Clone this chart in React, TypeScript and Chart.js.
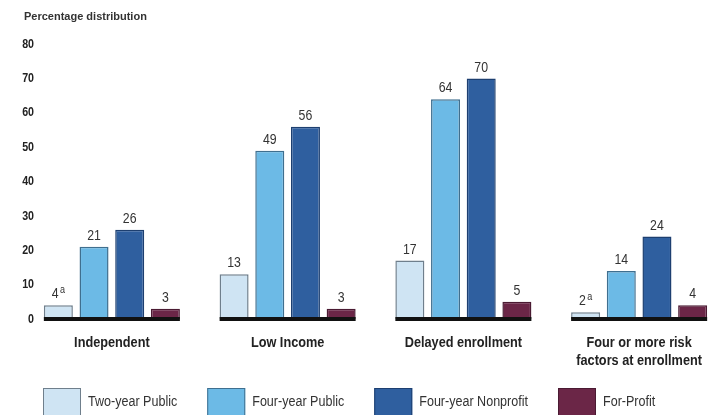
import React, { useEffect, useRef } from 'react';
import { Chart, registerables } from 'chart.js';

Chart.register(...registerables);

const categories: (string | string[])[] = [
  'Independent',
  'Low Income',
  'Delayed enrollment',
  ['Four or more risk', 'factors at enrollment'],
];
const seriesNames = ['Two-year Public', 'Four-year Public', 'Four-year Nonprofit', 'For-Profit'];
const twoYearPublic = [4, 13, 17, 2];
const fourYearPublic = [21, 49, 64, 14];
const fourYearNonprofit = [26, 56, 70, 24];
const forProfit = [3, 3, 5, 4];
const twoYearPublicNotes = ['a', '', '', 'a'];
const yTicks = [0, 10, 20, 30, 40, 50, 60, 70, 80];
const titleText = 'Percentage distribution';

const SANS = '"Liberation Sans", Arial, Helvetica, sans-serif';
const SQUEEZE = 0.82;

const fills = ['#cfe4f3', '#6cbae6', '#2f5f9f', '#6b2647'];
const borders = ['#6f7f8c', '#3f6f8f', '#1d3f70', '#4a1a32'];

const seriesValues = [twoYearPublic, fourYearPublic, fourYearNonprofit, forProfit];
const seriesNotes = [twoYearPublicNotes, [], [], []];

function fontOf(size: number, bold: boolean) {
  return `${bold ? 'bold ' : ''}${size}px ${SANS}`;
}

function narrowWidth(ctx: CanvasRenderingContext2D, text: string, size: number, bold: boolean) {
  ctx.save();
  ctx.font = fontOf(size, bold);
  const w = ctx.measureText(text).width * SQUEEZE;
  ctx.restore();
  return w;
}

function drawNarrow(
  ctx: CanvasRenderingContext2D,
  text: string,
  x: number,
  y: number,
  size: number,
  bold: boolean,
  align: CanvasTextAlign,
  baseline: CanvasTextBaseline,
  color: string
) {
  ctx.save();
  ctx.font = fontOf(size, bold);
  ctx.fillStyle = color;
  ctx.textAlign = align;
  ctx.textBaseline = baseline;
  ctx.translate(x, y);
  ctx.scale(SQUEEZE, 1);
  ctx.fillText(text, 0, 0);
  ctx.restore();
}

const axisText = {
  id: 'axisText',
  afterDraw(chart: any) {
    const ctx = chart.ctx as CanvasRenderingContext2D;
    const ys = chart.scales.y;
    const xs = chart.scales.x;
    const right = chart.chartArea.left + 10;
    yTicks.forEach((v) => {
      drawNarrow(ctx, String(v), right, ys.getPixelForValue(v), 13, true, 'right', 'middle', '#222');
    });
    const base = chart.chartArea.bottom;
    (chart.data.labels as (string | string[])[]).forEach((lab, i) => {
      const lines = Array.isArray(lab) ? lab : [lab];
      const cx = xs.getPixelForValue(i);
      lines.forEach((line, li) => {
        drawNarrow(ctx, line, cx, base + 27.5 + li * 18, 15.5, true, 'center', 'alphabetic', '#222');
      });
    });
  },
};

const barDecor = {
  id: 'barDecor',
  afterDatasetsDraw(chart: any) {
    const ctx = chart.ctx as CanvasRenderingContext2D;
    const y0 = chart.scales.y.getPixelForValue(0);
    const metas = chart.data.datasets.map((_: any, i: number) => chart.getDatasetMeta(i));
    ctx.save();
    ctx.fillStyle = '#111';
    for (let c = 0; c < chart.data.labels.length; c++) {
      const first = metas[0].data[c];
      const last = metas[metas.length - 1].data[c];
      const l = first.x - first.width / 2;
      const r = last.x + last.width / 2;
      ctx.fillRect(l, y0 - 2, r - l, 4);
    }
    ctx.restore();
    metas.forEach((meta: any, di: number) => {
      meta.data.forEach((bar: any, i: number) => {
        const txt = String(chart.data.datasets[di].data[i]);
        const note = (seriesNotes[di] as string[])[i] || '';
        const w = narrowWidth(ctx, txt, 15, false);
        const nw = note ? narrowWidth(ctx, note, 11, false) + 1.5 : 0;
        const sx = bar.x - (w + nw) / 2;
        const ty = bar.y - 7;
        drawNarrow(ctx, txt, sx, ty, 15, false, 'left', 'alphabetic', '#333');
        if (note) {
          drawNarrow(ctx, note, sx + w + 1.5, ty - 5, 11, false, 'left', 'alphabetic', '#333');
        }
      });
    });
  },
};

const customLegend = {
  id: 'customLegend',
  afterDraw(chart: any) {
    const ctx = chart.ctx as CanvasRenderingContext2D;
    let x = 43;
    chart.data.datasets.forEach((ds: any) => {
      ctx.save();
      ctx.fillStyle = ds.backgroundColor;
      ctx.fillRect(x, 388, 38, 30);
      ctx.strokeStyle = ds.borderColor;
      ctx.lineWidth = 1;
      ctx.strokeRect(x + 0.5, 388.5, 37, 29);
      ctx.restore();
      drawNarrow(ctx, ds.label, x + 45, 406, 15.3, false, 'left', 'alphabetic', '#333');
      x += 45 + narrowWidth(ctx, ds.label, 15.3, false) + 30;
    });
  },
};

export default function App() {
  const ref = useRef<HTMLCanvasElement | null>(null);
  useEffect(() => {
    if (!ref.current) return;
    const chart = new Chart(ref.current, {
      type: 'bar',
      data: {
        labels: categories as any,
        datasets: seriesNames.map((name, i) => ({
          label: name,
          data: seriesValues[i],
          backgroundColor: fills[i],
          borderColor: borders[i],
          borderWidth: 1.5,
          categoryPercentage: 0.812,
          barPercentage: 0.813,
        })),
      },
      options: {
        responsive: false,
        animation: false,
        devicePixelRatio: 1,
        layout: { padding: { left: 24, right: 0, top: 0, bottom: 0 } },
        plugins: {
          legend: { display: false },
          tooltip: { enabled: false },
          title: {
            display: true,
            text: titleText,
            align: 'start',
            color: '#333',
            font: { family: SANS, size: 11, weight: 'bold' },
            padding: { top: 10, bottom: 21 },
          },
        },
        scales: {
          x: {
            grid: { display: false, drawTicks: false },
            border: { display: false },
            ticks: { display: false },
            afterFit: (s: any) => {
              s.height = 96;
            },
          },
          y: {
            display: false,
            min: 0,
            max: 80,
          },
        },
      } as any,
      plugins: [barDecor, axisText, customLegend],
    });
    return () => chart.destroy();
  }, []);

  return (
    <div
      style={{
        position: 'absolute',
        left: 0,
        top: 0,
        width: 713,
        height: 415,
        overflow: 'hidden',
        background: '#fff',
      }}
    >
      <canvas ref={ref} width={727} height={415} style={{ display: 'block' }} />
    </div>
  );
}
